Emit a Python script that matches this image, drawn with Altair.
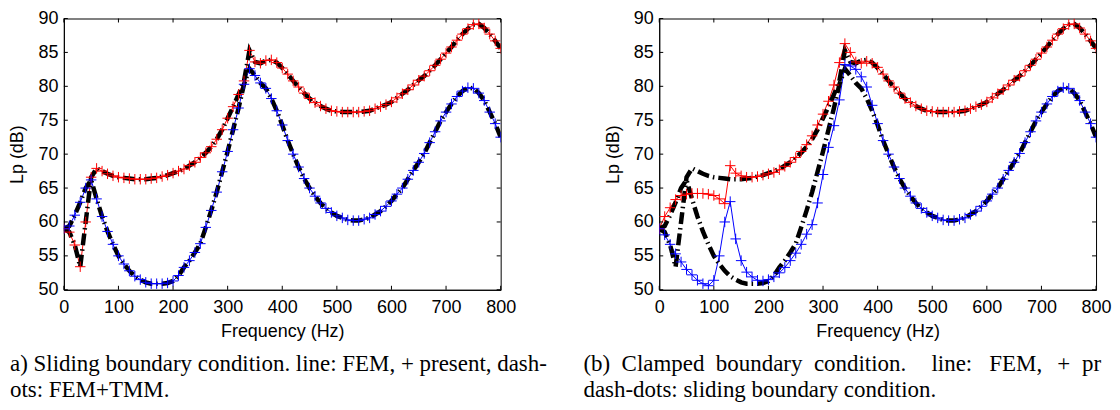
import altair as alt
import pandas as pd

# ---------------- data ----------------
FREQ = list(range(0, 801, 10))  # Hz

# sliding boundary condition (panel a: red / blue, also black dash-dots in b)
SLIDING_UPPER = [
    59.0, 58.5, 56.6, 53.4, 60.0, 66.6, 67.9, 67.5, 67.1, 66.8,
    66.6, 66.5, 66.4, 66.3, 66.3, 66.3, 66.4, 66.5, 66.7, 66.9,
    67.2, 67.5, 67.8, 68.3, 68.8, 69.5, 70.2, 71.1, 72.2, 73.6,
    75.3, 77.0, 78.8, 80.8, 85.3, 83.6, 83.4, 83.8, 83.9, 83.5,
    82.7, 81.8, 80.8, 79.9, 79.0, 78.2, 77.6, 77.1, 76.7, 76.4,
    76.3, 76.2, 76.2, 76.2, 76.2, 76.3, 76.4, 76.7, 77.0, 77.3,
    77.7, 78.3, 78.9, 79.5, 80.2, 80.9, 81.5, 82.3, 83.1, 84.0,
    84.9, 85.8, 86.8, 87.7, 88.5, 89.1, 89.2, 88.6, 87.7, 86.7, 85.6,
]
SLIDING_LOWER = [
    59.0, 59.4, 61.0, 62.9, 65.0, 66.2, 63.4, 60.8, 58.6, 56.7,
    55.0, 53.8, 52.8, 52.0, 51.5, 51.1, 50.9, 50.9, 50.9, 51.0,
    51.3, 52.1, 53.3, 54.3, 55.5, 56.8, 59.2, 61.7, 64.4, 67.4,
    70.4, 73.6, 76.8, 80.3, 82.6, 81.6, 80.5, 79.7, 78.2, 76.4,
    74.3, 72.0, 70.0, 68.1, 66.4, 65.0, 63.8, 62.8, 62.0, 61.4,
    60.9, 60.6, 60.3, 60.2, 60.2, 60.4, 60.6, 61.1, 61.6, 62.3,
    63.1, 64.1, 65.0, 66.3, 67.6, 68.8, 70.1, 71.7, 73.3, 74.9,
    76.2, 77.4, 78.5, 79.3, 79.8, 79.7, 79.0, 77.9, 76.2, 74.5, 72.5,
]
# clamped boundary condition (panel b: red / blue)
CLAMPED_UPPER = [
    59.0, 60.8, 62.1, 63.3, 63.9, 64.1, 64.2, 64.2, 64.2, 64.1,
    63.9, 63.4, 62.7, 68.3, 67.2, 66.8, 66.6, 66.6, 66.7, 66.9,
    67.1, 67.3, 67.7, 68.2, 68.8, 69.5, 70.4, 71.4, 72.7, 74.3,
    75.9, 77.8, 80.2, 83.5, 86.3, 85.0, 83.6, 83.4, 83.7, 83.4,
    82.8, 81.8, 80.8, 79.9, 79.0, 78.2, 77.6, 77.1, 76.7, 76.4,
    76.3, 76.2, 76.2, 76.2, 76.2, 76.3, 76.4, 76.7, 77.0, 77.3,
    77.7, 78.3, 78.9, 79.5, 80.2, 80.9, 81.5, 82.3, 83.1, 84.0,
    84.9, 85.8, 86.8, 87.7, 88.5, 89.1, 89.2, 88.6, 87.7, 86.7, 85.6,
]
CLAMPED_LOWER = [
    59.0, 58.1, 56.7, 55.3, 54.1, 53.0, 52.2, 51.4, 50.9, 50.6,
    51.4, 55.0, 60.0, 63.0, 57.5, 54.3, 52.6, 51.9, 51.4, 51.3,
    51.5, 51.9, 52.5, 53.3, 54.3, 55.4, 56.7, 58.2, 59.6, 62.8,
    67.0, 71.0, 74.2, 78.0, 83.2, 83.0, 82.5, 81.4, 79.9, 77.2,
    74.5, 72.0, 70.0, 68.1, 66.4, 65.0, 63.8, 62.8, 62.0, 61.4,
    60.9, 60.6, 60.3, 60.2, 60.2, 60.4, 60.6, 61.1, 61.6, 62.3,
    63.1, 64.1, 65.0, 66.3, 67.6, 68.8, 70.1, 71.7, 73.3, 74.9,
    76.2, 77.4, 78.5, 79.3, 79.8, 79.7, 79.0, 77.9, 76.2, 74.5, 72.5,
]

X_TICKS = [0, 100, 200, 300, 400, 500, 600, 700, 800]
Y_TICKS = [50, 55, 60, 65, 70, 75, 80, 85, 90]
X_DOMAIN = [0, 800]
Y_DOMAIN = [50, 90]

X_TITLE = "Frequency (Hz)"
Y_TITLE = "Lp (dB)"

CAPTION_A = ["a) Sliding boundary condition. line: FEM, + present, dash-",
             "ots: FEM+TMM."]
CAPTION_B_LINE1 = ["(b)\u00a0\u00a0Clamped\u00a0\u00a0boundary\u00a0\u00a0condition.",
                   "line:", "FEM,", "+", "present,"]
CAPTION_B_LINE2 = "dash-dots: sliding boundary condition."

# ---------------- layout / style ----------------
W, H = 438, 272
SANS = "Liberation Sans"
SERIF = "Liberation Serif"
LABEL_SIZE = 18
CAP_SIZE = 23
TICK_PX = 4
TICK_DB = TICK_PX * (Y_DOMAIN[1] - Y_DOMAIN[0]) / H
TICK_HZ = TICK_PX * (X_DOMAIN[1] - X_DOMAIN[0]) / W
PLUS = "M-1,0H1M0,-1V1"
RED, BLUE = "#ff0000", "#0000ff"
DASHDOT = [12, 4, 1.5, 4]

CAP_A_X = -54
CAP_Y = [353, 380]
CAP_B_X1 = [-76, 273, 331, 399, 424]
CAP_B_LIMIT = [0, 0, 0, 0, 29]
CAP_B_X2 = -76

xenc = alt.X("f:Q", scale=alt.Scale(domain=X_DOMAIN, nice=False, zero=False),
             axis=alt.Axis(values=X_TICKS, title=X_TITLE, format="d"))
yenc = alt.Y("L:Q", scale=alt.Scale(domain=Y_DOMAIN, nice=False, zero=False),
             axis=alt.Axis(values=Y_TICKS, title=Y_TITLE, format="d"))


def curve_df(values):
    return pd.DataFrame({"f": FREQ, "L": values})


def tick_df():
    rows = []
    for t in X_TICKS:
        rows.append({"f": t, "f2": t, "L": Y_DOMAIN[0], "L2": Y_DOMAIN[0] + TICK_DB})
        rows.append({"f": t, "f2": t, "L": Y_DOMAIN[1], "L2": Y_DOMAIN[1] - TICK_DB})
    for t in Y_TICKS:
        rows.append({"f": X_DOMAIN[0], "f2": X_DOMAIN[0] + TICK_HZ, "L": t, "L2": t})
        rows.append({"f": X_DOMAIN[1], "f2": X_DOMAIN[1] - TICK_HZ, "L": t, "L2": t})
    return pd.DataFrame(rows)


def text_layer(text, px, py, limit=0):
    kw = dict(align="left", baseline="alphabetic", font=SERIF,
              fontSize=CAP_SIZE, color="black")
    if limit:
        kw.update(limit=limit, ellipsis="\u200b")
    return alt.Chart(pd.DataFrame({"t": [text]})).mark_text(**kw).encode(
        text="t:N", x=alt.value(px), y=alt.value(py))


def panel(colored, black, captions):
    layers = []
    for vals, col in colored:
        layers.append(alt.Chart(curve_df(vals)).mark_line(
            color=col, strokeWidth=1, clip=True).encode(x=xenc, y=yenc))
    for vals in black:
        layers.append(alt.Chart(curve_df(vals)).mark_line(
            color="black", strokeWidth=4.5, strokeDash=DASHDOT, strokeCap="butt",
            clip=True).encode(x=xenc, y=yenc))
    for vals, col in colored:
        layers.append(alt.Chart(curve_df(vals)).mark_point(
            shape=PLUS, size=110, filled=False, strokeWidth=1, color=col,
            opacity=1, clip=True).encode(x=xenc, y=yenc))
    layers.append(alt.Chart(tick_df()).mark_rule(color="black", strokeWidth=1).encode(
        x=xenc, x2="f2:Q", y=yenc, y2="L2:Q"))
    layers.extend(captions)
    return alt.layer(*layers).properties(width=W, height=H)


panel_a = panel(
    [(SLIDING_UPPER, RED), (SLIDING_LOWER, BLUE)],
    [SLIDING_UPPER, SLIDING_LOWER],
    [text_layer(CAPTION_A[0], CAP_A_X, CAP_Y[0]),
     text_layer(CAPTION_A[1], CAP_A_X, CAP_Y[1])],
)
panel_b = panel(
    [(CLAMPED_UPPER, RED), (CLAMPED_LOWER, BLUE)],
    [SLIDING_UPPER, SLIDING_LOWER],
    [text_layer(t, x, CAP_Y[0], lim)
     for t, x, lim in zip(CAPTION_B_LINE1, CAP_B_X1, CAP_B_LIMIT)]
    + [text_layer(CAPTION_B_LINE2, CAP_B_X2, CAP_Y[1])],
)

chart = alt.hconcat(panel_a, panel_b, spacing=159, bounds="flush").properties(
    padding={"left": 0, "top": 0, "right": 0, "bottom": 0}
).configure_view(stroke="black", strokeWidth=1).configure_axis(
    labelFont=SANS, titleFont=SANS, labelFontSize=LABEL_SIZE,
    titleFontSize=LABEL_SIZE, labelColor="black", titleColor="black",
    titleFontWeight="normal", domainColor="black", domainWidth=1,
    ticks=False, grid=False,
).configure_axisX(labelPadding=9, titlePadding=6, labelFlush=False).configure_axisY(
    labelPadding=6, titlePadding=11)

chart.save("out.html", embed_options={"renderer": "svg", "actions": False})
